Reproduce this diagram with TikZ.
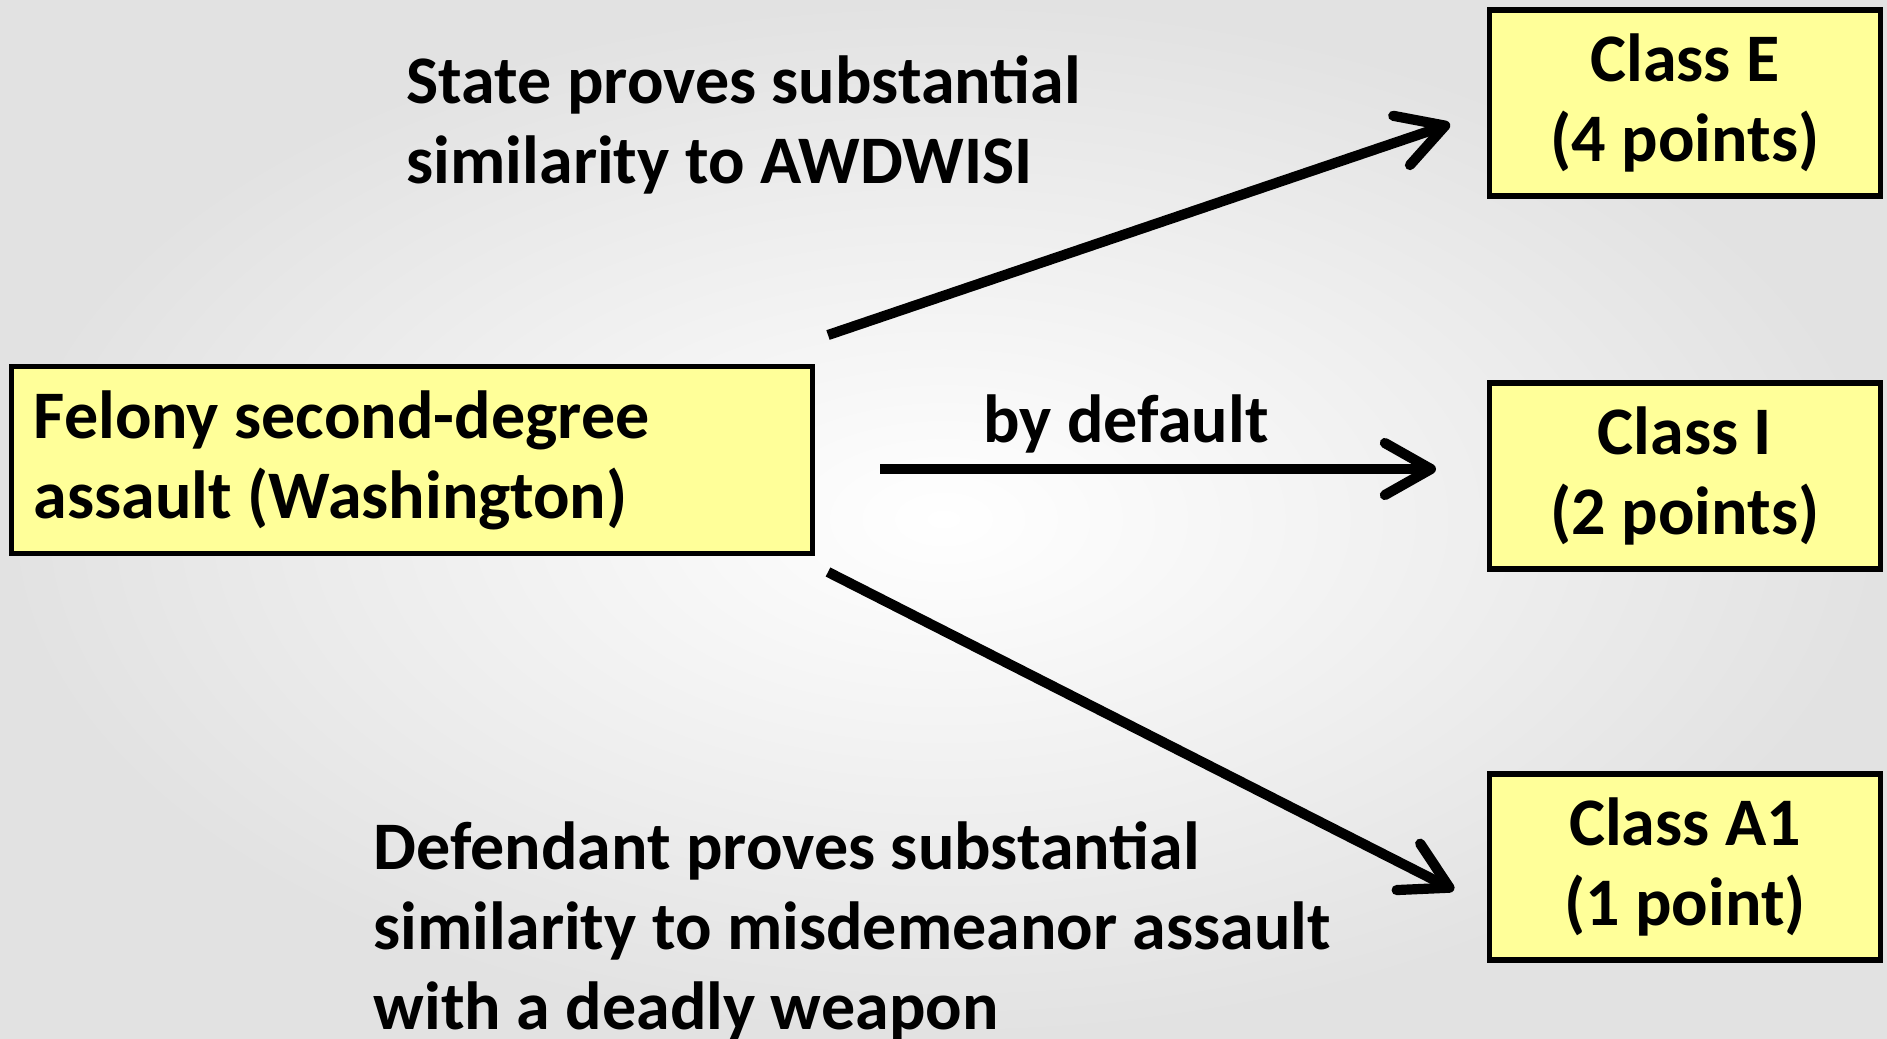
\documentclass[tikz,border=0pt]{standalone}
\usepackage{fontspec}
\setmainfont{Carlito}
\usepackage{tikz}
\usetikzlibrary{arrows.meta}
\definecolor{boxfill}{HTML}{FFFF99}
\definecolor{bgedge}{HTML}{E2E2E2}
\tikzset{
  lab/.style={font=\fontsize{19.35}{22.8}\selectfont\bfseries, align=flush left, anchor=west, inner sep=0pt},
  boxLine/.style={draw=black, line width=1.5pt, fill=boxfill, font=\fontsize{19.35}{22.8}\selectfont\bfseries},
  classBox/.style={boxLine, minimum width=3.91cm, minimum height=1.86cm, inner sep=0pt, align=center},
  crimeBox/.style={boxLine, minimum height=1.87cm, inner xsep=0.22cm, inner ysep=0pt, text width=7.56cm, align=flush left},
  arrowLine/.style={line width=2.9pt, -{Straight Barb[length=4.6mm,width=5.2mm,round]}}
}
\begin{document}
\begin{tikzpicture}[x=0.01cm,y=-0.01cm]
\useasboundingbox (0,0) rectangle (1887,1038);
\shade[inner color=white, outer color=bgedge] (0,0) rectangle (1887,1038);

% boxes
\node[crimeBox] (felony) at (412,460) {Felony second-degree\\assault (Washington)};
\node[classBox] (classE) at (1685,103) {Class E\\(4 points)};
\node[classBox] (classI) at (1685,476) {Class I\\(2 points)};
\node[classBox] (classA) at (1685,867) {Class A1\\(1 point)};

% arrow ends
\coordinate (upS) at (828,335);
\coordinate (upE) at (1450,124);
\coordinate (midS) at (880,469);
\coordinate (midE) at (1436,469);
\coordinate (lowS) at (828,572);
\coordinate (lowE) at (1454,890);
\draw[arrowLine] (upS) -- (upE);
\draw[arrowLine] (midS) -- (midE);
\draw[arrowLine] (lowS) -- (lowE);

% labels
\node[lab] (stateLab) at (406,125) {State proves substantial\\similarity to AWDWISI};
\node[lab, anchor=center] (defaultLab) at (1126,424) {by default};
\node[lab] (defLab) at (373,931) {Defendant proves substantial\\similarity to misdemeanor assault\\with a deadly weapon};
\end{tikzpicture}
\end{document}
